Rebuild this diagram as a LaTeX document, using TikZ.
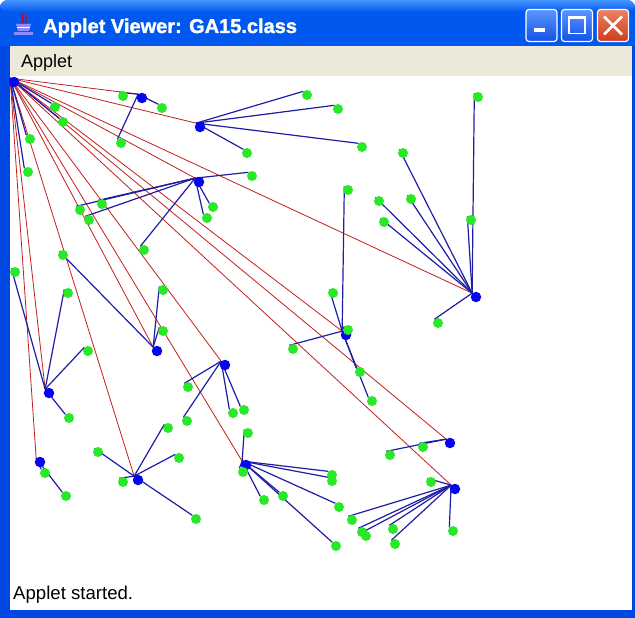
\documentclass[tikz,border=0pt]{standalone}
\usepackage{fontspec}
\setmainfont{Liberation Sans}
\newfontfamily\titlefont[FakeBold=1.6]{Liberation Sans Bold}
\usetikzlibrary{backgrounds}

\definecolor{titlemain}{RGB}{0,88,238}
\definecolor{titletop}{RGB}{70,150,255}
\definecolor{frameblue}{RGB}{0,72,228}
\definecolor{menubg}{RGB}{236,233,216}
\definecolor{routered}{RGB}{195,30,30}
\definecolor{linkblue}{RGB}{30,30,165}
\definecolor{custgreen}{RGB}{40,232,40}
\definecolor{hubblue}{RGB}{5,5,240}
\definecolor{btnlight}{RGB}{90,150,255}
\definecolor{btnblue}{RGB}{20,80,230}
\definecolor{closelight}{RGB}{235,130,100}
\definecolor{closedark}{RGB}{205,60,30}

\begin{document}
\begin{tikzpicture}[x=1pt,y=-1pt,
	cust/.style={circle,fill=custgreen,inner sep=0pt,minimum size=10pt},
	hub/.style={circle,fill=hubblue,inner sep=0pt,minimum size=10.5pt},
	route/.style={routered,line width=0.8pt},
	link/.style={linkblue,line width=1.2pt},
	winbtn/.style={draw=white,line width=1.2pt,rounded corners=3pt,minimum width=31pt,minimum height=32pt,inner sep=0pt}]
	\useasboundingbox (0,0) rectangle (635,618);

	% window frame
	\begin{scope}[on background layer]
		\fill[titlemain,rounded corners=8pt] (0,0) rectangle (635,60);
		\shade[top color=titletop,bottom color=titlemain,rounded corners=8pt] (0,0) rectangle (635,12);
		\fill[frameblue] (0,46) rectangle (635,618);
		\fill[menubg] (10,46) rectangle (632,76);
		\fill[white] (10,76) rectangle (632,610);
	\end{scope}

	% java icon
	\draw[red!85!black,line width=1.4pt] (23,13) .. controls (19,17) and (26,19) .. (22,24);
	\draw[red!85!black,line width=1pt] (27,16) .. controls (24,19) and (28,20) .. (25,23);
	\fill[white!55!blue] (16,24) -- (31,24) -- (29,31) -- (18,31) -- cycle;
	\fill[white!55!blue] (14,32) rectangle (33,35);
	\draw[white] (17,27) -- (30,27);

	\node[anchor=base west,inner sep=0pt,text=white,font=\titlefont\fontsize{20}{24}\selectfont] (title) at (43,33) {Applet Viewer: GA15.class};

	\node[winbtn,top color=btnlight,bottom color=btnblue] (minbtn) at (541.5,25.5) {};
	\node[winbtn,top color=btnlight,bottom color=btnblue] (maxbtn) at (577,25.5) {};
	\node[winbtn,top color=closelight,bottom color=closedark] (closebtn) at (613,25.5) {};
	\fill[white] ([shift={(-8,3)}]minbtn.center) rectangle ([shift={(3,7)}]minbtn.center);
	\draw[white,line width=1.5pt] ([shift={(-8,-9)}]maxbtn.center) rectangle ([shift={(8,8)}]maxbtn.center);
	\fill[white] ([shift={(-8,-9)}]maxbtn.center) rectangle ([shift={(8,-6)}]maxbtn.center);
	\draw[white,line width=2.6pt] ([shift={(-9,-9)}]closebtn.center) -- ([shift={(9,9)}]closebtn.center);
	\draw[white,line width=2.6pt] ([shift={(9,-9)}]closebtn.center) -- ([shift={(-9,9)}]closebtn.center);

	\node[anchor=base west,inner sep=0pt,font=\fontsize{18}{22}\selectfont] (menu) at (21,67) {Applet};
	\node[anchor=base west,inner sep=0pt,font=\fontsize{18.6}{22}\selectfont] (status) at (13,599) {Applet started.};

	% depot and centres
	\node[hub] (depot) at (14,82) {};
	\foreach \n/\x/\y in {c1/142/98, c2/200/127, c3/199/182, c4/476/297, c5/157/351,
		c6/346/335, c7/49/393, c8/225/365, c9/40/462, c10/138/480,
		c11/246/465, c12/450/443, c13/455/489} {
		\node[hub] (\n) at (\x,\y) {};
		\begin{scope}[on background layer]
			\draw[route] (depot.north west) -- (\n.north west);
		\end{scope}
	}

	% customers
	\foreach \h/\i/\x/\y in {depot/1/55/107, depot/2/63/122, depot/3/30/139, depot/4/28/172,
		c1/1/123/96, c1/2/162/108, c1/3/121/143,
		c2/1/307/95, c2/2/338/109, c2/3/362/147, c2/4/247/153,
		c3/1/252/176, c3/2/80/210, c3/3/89/220, c3/4/102/204, c3/5/213/207, c3/6/207/218, c3/7/144/250,
		c4/1/478/97, c4/2/403/153, c4/3/379/201, c4/4/411/199, c4/5/384/222, c4/6/471/220, c4/7/438/323,
		c5/1/63/255, c5/2/163/290, c5/3/163/331,
		c6/1/348/190, c6/2/333/293, c6/3/348/330, c6/4/360/372, c6/5/372/401, c6/6/293/349,
		c7/1/15/272, c7/2/68/293, c7/3/88/351, c7/4/69/418,
		c8/1/188/387, c8/2/187/421, c8/3/233/413, c8/4/244/410,
		c9/1/45/473, c9/2/66/496,
		c10/1/98/452, c10/2/123/482, c10/3/168/428, c10/4/179/458, c10/5/196/519,
		c11/1/248/433, c11/2/243/472, c11/3/264/500, c11/4/283/496, c11/5/332/475, c11/6/332/481, c11/7/339/507, c11/8/336/546,
		c12/1/423/447, c12/2/390/455,
		c13/1/431/482, c13/2/352/520, c13/3/362/532, c13/4/366/536, c13/5/393/529, c13/6/395/544, c13/7/453/531} {
		\node[cust] (\h-\i) at (\x,\y) {};
		\begin{scope}[on background layer]
			\draw[link] (\h.north west) -- (\h-\i.north west);
		\end{scope}
	}
\end{tikzpicture}
\end{document}
